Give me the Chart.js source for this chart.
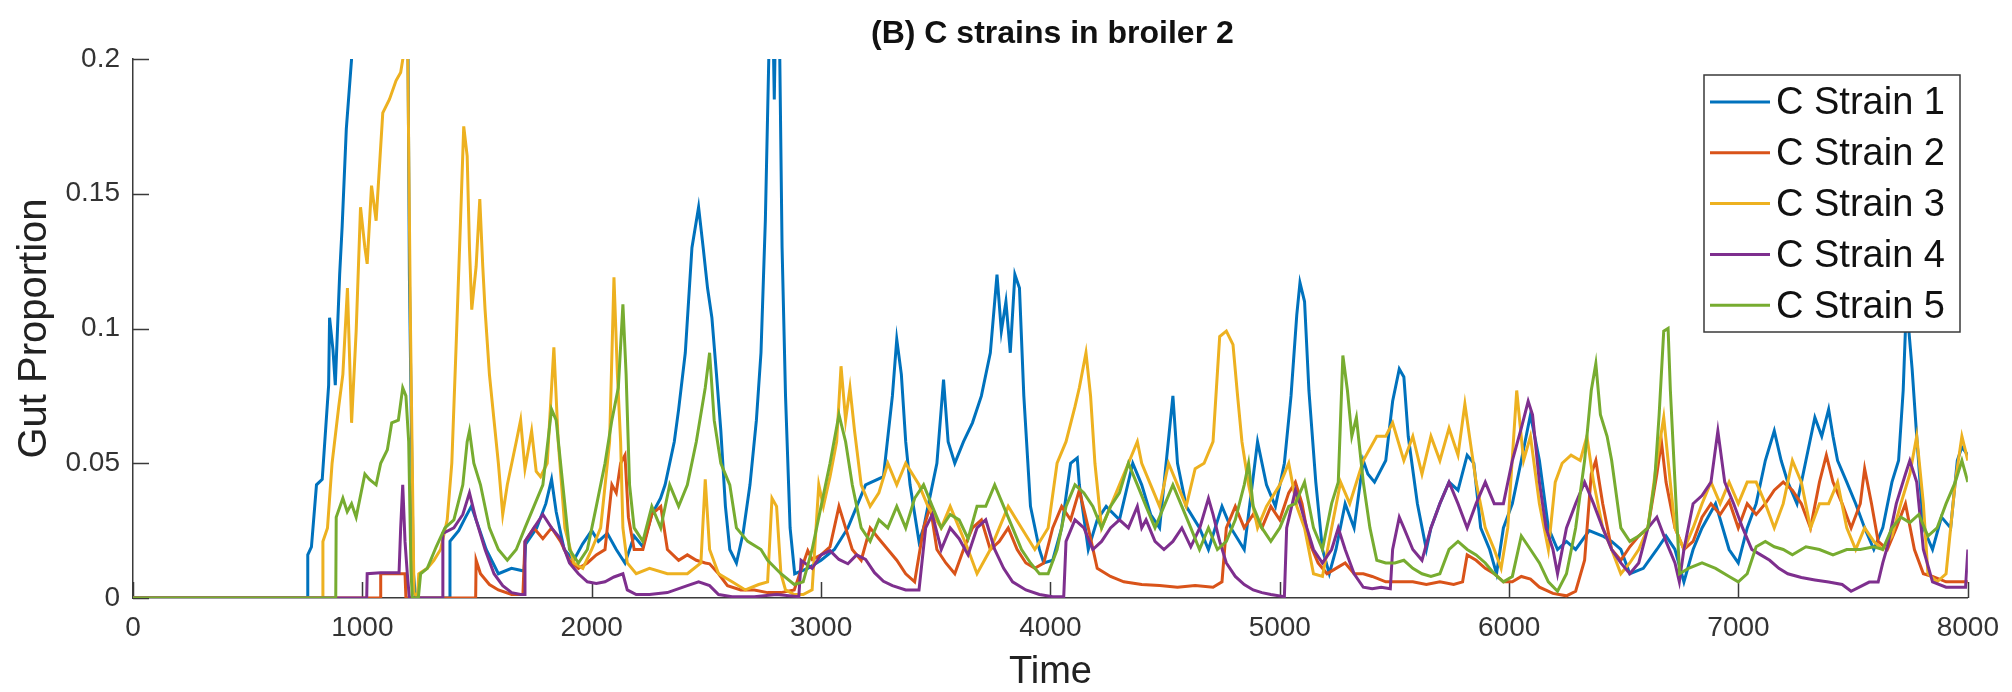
<!DOCTYPE html>
<html>
<head>
<meta charset="utf-8">
<title>C strains in broiler 2</title>
<script src="https://cdn.jsdelivr.net/npm/chart.js@4.4.1/dist/chart.umd.min.js"></script>
<style>
  html, body { margin: 0; padding: 0; background: #fff; }
  #wrap { width: 2012px; height: 692px; }
</style>
</head>
<body>
<div id="wrap"><canvas id="chart" width="2012" height="692"></canvas></div>
<script>
/* Series: [time, gut proportion] */
const strain1 = [[0,0],[760,0],[762,0.016],[778,0.019],[800,0.042],[825,0.044],[853,0.079],[857,0.104],[872,0.092],[882,0.079],[901,0.12],[912,0.138],[930,0.174],[953,0.2],[980,0.26],[1060,0.3],[1150,0.3],[1195,0.26],[1205,0.12],[1222,0.01],[1232,0],
  [1378,0],[1382,0.021],[1420,0.025],[1450,0.03],[1475,0.034],[1500,0.028],[1540,0.018],[1593,0.009],[1650,0.011],[1705,0.01],[1712,0.02],[1760,0.026],[1800,0.035],[1825,0.044],[1845,0.032],[1880,0.018],[1922,0.014],[1960,0.02],[2000,0.025],[2029,0.021],[2068,0.024],[2107,0.018],[2145,0.013],[2185,0.023],[2223,0.019],[2262,0.031],[2300,0.037],[2320,0.042],[2360,0.058],[2379,0.07],[2408,0.091],[2437,0.13],[2466,0.145],[2486,0.13],[2505,0.115],[2524,0.104],[2544,0.083],[2563,0.062],[2583,0.034],[2602,0.018],[2631,0.013],[2660,0.024],[2690,0.042],[2718,0.066],[2738,0.091],[2757,0.14],[2772,0.2],[2785,0.24],[2796,0.185],[2806,0.24],[2820,0.2],[2830,0.13],[2845,0.075],[2865,0.026],[2885,0.009],[2942,0.011],[3000,0.014],[3058,0.018],[3117,0.026],[3194,0.042],[3272,0.045],[3311,0.075],[3330,0.096],[3350,0.083],[3369,0.058],[3388,0.042],[3427,0.021],[3447,0.026],[3466,0.034],[3505,0.05],[3534,0.081],[3554,0.058],[3583,0.05],[3621,0.058],[3660,0.065],[3699,0.075],[3738,0.091],[3767,0.12],[3786,0.099],[3806,0.11],[3825,0.091],[3845,0.12],[3865,0.115],[3884,0.075],[3913,0.034],[3952,0.018],[3971,0.013],[4010,0.014],[4049,0.026],[4088,0.05],[4117,0.052],[4126,0.042],[4165,0.018],[4204,0.029],[4243,0.034],[4301,0.029],[4359,0.05],[4398,0.042],[4437,0.031],[4476,0.026],[4534,0.075],[4554,0.05],[4592,0.034],[4650,0.026],[4689,0.018],[4748,0.034],[4787,0.026],[4845,0.018],[4903,0.058],[4942,0.042],[4981,0.034],[5020,0.05],[5049,0.075],[5074,0.105],[5088,0.117],[5108,0.11],[5127,0.077],[5157,0.043],[5186,0.018],[5216,0.009],[5245,0.018],[5285,0.035],[5324,0.026],[5364,0.051],[5384,0.046],[5413,0.043],[5462,0.051],[5492,0.073],[5521,0.085],[5541,0.082],[5560,0.06],[5600,0.035],[5639,0.018],[5659,0.026],[5698,0.035],[5738,0.043],[5777,0.04],[5817,0.053],[5846,0.05],[5876,0.026],[5915,0.018],[5945,0.009],[5975,0.026],[6014,0.035],[6053,0.051],[6093,0.068],[6132,0.051],[6171,0.026],[6211,0.018],[6250,0.021],[6290,0.018],[6349,0.025],[6408,0.023],[6447,0.021],[6487,0.018],[6526,0.009],[6585,0.011],[6644,0.018],[6684,0.023],[6723,0.018],[6762,0.006],[6802,0.018],[6841,0.026],[6900,0.035],[6959,0.018],[6999,0.013],[7038,0.026],[7077,0.035],[7117,0.051],[7156,0.062],[7186,0.051],[7215,0.043],[7255,0.035],[7294,0.051],[7333,0.067],[7363,0.06],[7393,0.07],[7412,0.06],[7432,0.051],[7472,0.043],[7511,0.035],[7550,0.026],[7590,0.018],[7629,0.026],[7669,0.043],[7698,0.051],[7718,0.077],[7728,0.1],[7738,0.104],[7757,0.085],[7777,0.06],[7806,0.026],[7846,0.018],[7885,0.03],[7925,0.026],[7954,0.051],[7974,0.056],[8000,0.053]];

const strain2 = [[0,0],[1078,0],[1080,0.009],[1186,0.009],[1190,0],[1494,0],[1496,0.014],[1515,0.009],[1554,0.005],[1593,0.003],[1651,0.0013],[1700,0.0013],[1709,0.021],[1748,0.026],[1787,0.022],[1825,0.026],[1864,0.021],[1903,0.014],[1942,0.011],[1981,0.013],[2020,0.016],[2058,0.018],[2088,0.042],[2107,0.039],[2126,0.05],[2145,0.053],[2160,0.03],[2185,0.018],[2223,0.018],[2262,0.031],[2301,0.034],[2330,0.018],[2379,0.014],[2417,0.016],[2456,0.014],[2495,0.013],[2514,0.0127],[2553,0.009],[2592,0.0046],[2650,0.003],[2709,0.003],[2767,0.002],[2825,0.002],[2883,0.003],[2922,0.0127],[2942,0.0176],[2961,0.0143],[3000,0.016],[3039,0.019],[3078,0.034],[3107,0.026],[3136,0.018],[3175,0.014],[3214,0.026],[3252,0.022],[3291,0.018],[3330,0.014],[3369,0.009],[3408,0.006],[3447,0.026],[3476,0.034],[3505,0.018],[3544,0.013],[3583,0.009],[3621,0.018],[3660,0.026],[3699,0.029],[3738,0.018],[3777,0.021],[3816,0.026],[3855,0.018],[3893,0.013],[3932,0.011],[3971,0.013],[4010,0.026],[4049,0.034],[4088,0.029],[4126,0.04],[4165,0.026],[4204,0.011],[4262,0.008],[4320,0.006],[4398,0.005],[4476,0.0046],[4554,0.004],[4631,0.0046],[4709,0.004],[4748,0.006],[4767,0.026],[4806,0.034],[4845,0.026],[4884,0.031],[4922,0.026],[4961,0.034],[5000,0.029],[5039,0.039],[5068,0.043],[5097,0.035],[5127,0.021],[5167,0.013],[5206,0.009],[5245,0.011],[5285,0.013],[5324,0.009],[5364,0.009],[5403,0.008],[5462,0.006],[5521,0.006],[5580,0.006],[5639,0.005],[5698,0.006],[5758,0.005],[5797,0.006],[5817,0.016],[5856,0.014],[5896,0.011],[5935,0.009],[5975,0.006],[6014,0.006],[6053,0.008],[6093,0.007],[6132,0.004],[6191,0.0017],[6250,0.0008],[6290,0.0025],[6329,0.014],[6358,0.046],[6378,0.051],[6408,0.035],[6447,0.018],[6487,0.014],[6526,0.019],[6565,0.023],[6605,0.026],[6644,0.046],[6664,0.058],[6684,0.043],[6723,0.026],[6762,0.018],[6802,0.021],[6841,0.03],[6880,0.035],[6920,0.031],[6959,0.036],[6999,0.026],[7038,0.035],[7077,0.031],[7117,0.035],[7156,0.04],[7195,0.043],[7235,0.04],[7274,0.035],[7314,0.026],[7353,0.043],[7383,0.053],[7412,0.043],[7452,0.035],[7491,0.026],[7531,0.035],[7550,0.048],[7580,0.035],[7609,0.021],[7649,0.018],[7688,0.026],[7728,0.035],[7767,0.018],[7806,0.009],[7846,0.008],[7905,0.006],[7964,0.006],[8000,0.006]];

const strain3 = [[0,0],[826,0],[828,0.021],[848,0.026],[868,0.05],[897,0.071],[915,0.083],[935,0.115],[953,0.065],[973,0.099],[992,0.145],[1011,0.13],[1021,0.124],[1040,0.153],[1060,0.14],[1089,0.18],[1118,0.185],[1147,0.192],[1167,0.195],[1186,0.205],[1198,0.2],[1210,0.1],[1225,0.002],[1240,0],
  [1246,0.009],[1283,0.011],[1312,0.014],[1341,0.018],[1370,0.029],[1390,0.05],[1409,0.094],[1428,0.14],[1442,0.175],[1457,0.164],[1467,0.13],[1477,0.107],[1496,0.123],[1512,0.148],[1525,0.123],[1535,0.107],[1554,0.083],[1574,0.066],[1593,0.05],[1612,0.031],[1632,0.042],[1671,0.058],[1690,0.066],[1709,0.048],[1738,0.062],[1758,0.047],[1777,0.045],[1806,0.05],[1835,0.093],[1854,0.058],[1883,0.026],[1922,0.013],[1961,0.011],[2000,0.018],[2039,0.026],[2078,0.058],[2097,0.119],[2112,0.083],[2126,0.058],[2136,0.026],[2155,0.013],[2194,0.009],[2252,0.011],[2330,0.009],[2417,0.009],[2476,0.013],[2495,0.044],[2514,0.018],[2553,0.009],[2612,0.006],[2670,0.003],[2728,0.005],[2767,0.006],[2786,0.037],[2806,0.034],[2825,0.009],[2845,0.003],[2883,0.0013],[2922,0.0013],[2961,0.003],[2990,0.042],[3010,0.034],[3039,0.045],[3068,0.058],[3087,0.086],[3107,0.066],[3126,0.078],[3146,0.062],[3175,0.042],[3214,0.034],[3252,0.039],[3291,0.05],[3330,0.042],[3369,0.05],[3427,0.042],[3466,0.034],[3524,0.026],[3563,0.034],[3602,0.026],[3641,0.018],[3680,0.009],[3738,0.018],[3777,0.026],[3816,0.034],[3874,0.026],[3932,0.018],[3990,0.026],[4029,0.05],[4068,0.058],[4107,0.071],[4126,0.078],[4155,0.091],[4175,0.075],[4194,0.05],[4223,0.026],[4262,0.034],[4301,0.042],[4340,0.05],[4379,0.058],[4398,0.05],[4437,0.042],[4476,0.034],[4515,0.05],[4554,0.042],[4592,0.034],[4631,0.048],[4670,0.05],[4709,0.058],[4738,0.097],[4767,0.099],[4796,0.094],[4816,0.075],[4835,0.058],[4864,0.042],[4903,0.026],[4942,0.034],[5000,0.042],[5039,0.05],[5074,0.034],[5108,0.026],[5147,0.009],[5186,0.008],[5226,0.026],[5265,0.043],[5305,0.035],[5364,0.051],[5423,0.06],[5462,0.06],[5492,0.065],[5541,0.051],[5580,0.06],[5620,0.046],[5659,0.06],[5698,0.051],[5738,0.063],[5777,0.053],[5807,0.072],[5827,0.06],[5856,0.043],[5896,0.026],[5935,0.018],[5965,0.011],[5994,0.026],[6033,0.077],[6063,0.051],[6093,0.06],[6132,0.035],[6171,0.018],[6201,0.043],[6231,0.05],[6270,0.053],[6310,0.051],[6339,0.06],[6368,0.043],[6408,0.026],[6447,0.018],[6487,0.009],[6526,0.013],[6565,0.018],[6605,0.026],[6644,0.051],[6674,0.067],[6693,0.051],[6723,0.026],[6762,0.018],[6802,0.026],[6841,0.035],[6880,0.043],[6920,0.035],[6959,0.043],[6999,0.035],[7038,0.043],[7077,0.043],[7117,0.035],[7156,0.026],[7195,0.035],[7235,0.051],[7274,0.043],[7314,0.026],[7353,0.035],[7393,0.035],[7432,0.043],[7472,0.026],[7511,0.018],[7550,0.026],[7590,0.021],[7629,0.018],[7669,0.023],[7708,0.035],[7747,0.046],[7777,0.06],[7806,0.035],[7826,0.009],[7866,0.006],[7905,0.009],[7945,0.043],[7974,0.06],[8000,0.051]];

const strain4 = [[0,0],[1019,0],[1021,0.009],[1080,0.0094],[1160,0.0094],[1167,0.026],[1176,0.042],[1186,0.021],[1196,0.009],[1205,0],[1349,0],[1351,0.024],[1399,0.026],[1438,0.031],[1467,0.039],[1496,0.029],[1535,0.018],[1574,0.009],[1612,0.0046],[1651,0.002],[1690,0.0013],[1705,0.0013],[1709,0.021],[1748,0.026],[1787,0.031],[1825,0.026],[1864,0.022],[1903,0.013],[1942,0.009],[1981,0.006],[2020,0.0054],[2058,0.006],[2097,0.0078],[2136,0.009],[2155,0.003],[2194,0.0013],[2252,0.0013],[2330,0.002],[2417,0.0046],[2466,0.006],[2514,0.0046],[2553,0.0013],[2612,0.0005],[2709,0.0005],[2806,0.0013],[2903,0.0005],[2913,0.014],[2961,0.011],[3000,0.016],[3039,0.0176],[3078,0.0143],[3117,0.0127],[3155,0.016],[3194,0.0143],[3233,0.0094],[3272,0.0062],[3311,0.0046],[3369,0.003],[3427,0.003],[3456,0.026],[3485,0.031],[3524,0.018],[3563,0.026],[3602,0.022],[3641,0.016],[3680,0.026],[3718,0.029],[3757,0.018],[3796,0.011],[3835,0.006],[3893,0.003],[3952,0.0013],[4010,0.0005],[4058,0.0005],[4068,0.021],[4107,0.029],[4146,0.026],[4185,0.018],[4223,0.021],[4262,0.026],[4301,0.029],[4340,0.026],[4379,0.034],[4398,0.026],[4417,0.029],[4456,0.021],[4495,0.018],[4534,0.021],[4573,0.026],[4612,0.019],[4651,0.026],[4689,0.037],[4709,0.031],[4738,0.021],[4767,0.013],[4806,0.008],[4845,0.005],[4884,0.003],[4922,0.002],[4961,0.0013],[5020,0.0005],[5030,0.026],[5068,0.04],[5088,0.035],[5118,0.026],[5147,0.018],[5186,0.013],[5226,0.018],[5255,0.026],[5285,0.018],[5324,0.009],[5364,0.004],[5403,0.0034],[5442,0.004],[5482,0.0034],[5492,0.018],[5521,0.03],[5541,0.026],[5580,0.018],[5620,0.014],[5659,0.026],[5698,0.035],[5738,0.043],[5777,0.035],[5817,0.026],[5856,0.035],[5896,0.043],[5935,0.035],[5975,0.035],[6014,0.051],[6053,0.063],[6083,0.073],[6102,0.068],[6132,0.043],[6161,0.026],[6191,0.018],[6211,0.009],[6250,0.026],[6290,0.035],[6329,0.043],[6368,0.035],[6408,0.026],[6447,0.018],[6487,0.013],[6526,0.009],[6565,0.013],[6605,0.026],[6644,0.03],[6684,0.021],[6723,0.013],[6742,0.006],[6762,0.018],[6802,0.035],[6841,0.038],[6880,0.043],[6910,0.062],[6940,0.043],[6979,0.035],[7018,0.026],[7058,0.018],[7097,0.016],[7136,0.014],[7176,0.011],[7215,0.009],[7274,0.0076],[7333,0.0067],[7393,0.0059],[7452,0.005],[7491,0.0025],[7531,0.0042],[7570,0.0059],[7609,0.0059],[7629,0.013],[7649,0.019],[7688,0.035],[7728,0.046],[7747,0.051],[7777,0.043],[7806,0.018],[7846,0.006],[7905,0.004],[7964,0.004],[7990,0.004],[8000,0.018]];

const strain5 = [[0,0],[884,0],[886,0.03],[915,0.037],[934,0.032],[953,0.035],[973,0.03],[1011,0.046],[1031,0.044],[1060,0.042],[1080,0.05],[1109,0.055],[1128,0.065],[1157,0.066],[1176,0.078],[1190,0.075],[1202,0.058],[1212,0.01],[1218,0],[1244,0],[1254,0.009],[1283,0.011],[1322,0.019],[1360,0.026],[1399,0.029],[1438,0.042],[1457,0.058],[1467,0.062],[1486,0.05],[1515,0.042],[1554,0.026],[1593,0.018],[1632,0.014],[1671,0.018],[1709,0.026],[1748,0.034],[1787,0.042],[1825,0.07],[1845,0.066],[1874,0.042],[1903,0.018],[1942,0.013],[1981,0.018],[2020,0.034],[2058,0.05],[2088,0.066],[2116,0.078],[2136,0.109],[2150,0.083],[2165,0.042],[2185,0.026],[2223,0.021],[2262,0.034],[2301,0.026],[2340,0.042],[2379,0.034],[2417,0.042],[2456,0.058],[2495,0.078],[2514,0.091],[2534,0.066],[2563,0.05],[2602,0.042],[2631,0.026],[2680,0.021],[2738,0.018],[2767,0.014],[2825,0.009],[2883,0.005],[2922,0.006],[2961,0.018],[3000,0.034],[3039,0.05],[3078,0.068],[3107,0.058],[3136,0.042],[3175,0.026],[3214,0.021],[3252,0.029],[3291,0.026],[3330,0.034],[3369,0.026],[3408,0.037],[3447,0.042],[3485,0.034],[3524,0.026],[3563,0.031],[3602,0.029],[3641,0.022],[3680,0.034],[3718,0.034],[3757,0.042],[3796,0.034],[3835,0.026],[3874,0.018],[3913,0.013],[3952,0.009],[3990,0.009],[4029,0.018],[4068,0.034],[4107,0.042],[4146,0.039],[4185,0.034],[4223,0.026],[4262,0.034],[4301,0.039],[4340,0.05],[4379,0.042],[4417,0.034],[4456,0.026],[4495,0.034],[4534,0.042],[4573,0.034],[4612,0.026],[4650,0.018],[4689,0.026],[4728,0.018],[4767,0.021],[4806,0.029],[4845,0.042],[4864,0.05],[4884,0.034],[4922,0.026],[4961,0.021],[5000,0.026],[5039,0.034],[5068,0.035],[5108,0.043],[5147,0.026],[5186,0.018],[5226,0.035],[5255,0.043],[5275,0.09],[5295,0.077],[5314,0.06],[5334,0.067],[5364,0.043],[5393,0.026],[5423,0.014],[5462,0.013],[5502,0.013],[5541,0.014],[5580,0.011],[5620,0.009],[5659,0.008],[5698,0.009],[5738,0.018],[5777,0.021],[5817,0.018],[5856,0.016],[5896,0.013],[5935,0.009],[5975,0.006],[6014,0.008],[6053,0.023],[6093,0.018],[6132,0.013],[6171,0.006],[6211,0.0025],[6250,0.009],[6290,0.026],[6329,0.051],[6358,0.077],[6378,0.087],[6398,0.068],[6427,0.06],[6447,0.051],[6487,0.026],[6526,0.021],[6565,0.023],[6605,0.026],[6634,0.043],[6654,0.068],[6674,0.099],[6693,0.1],[6703,0.077],[6723,0.043],[6743,0.009],[6782,0.011],[6841,0.013],[6900,0.011],[6959,0.008],[6999,0.006],[7038,0.009],[7077,0.019],[7117,0.021],[7156,0.019],[7195,0.018],[7235,0.016],[7294,0.019],[7353,0.018],[7412,0.016],[7472,0.018],[7531,0.018],[7590,0.019],[7629,0.018],[7669,0.026],[7708,0.03],[7747,0.028],[7786,0.031],[7826,0.023],[7866,0.026],[7905,0.035],[7945,0.043],[7974,0.051],[8000,0.043]];

const seriesNames = ["C Strain 1", "C Strain 2", "C Strain 3", "C Strain 4", "C Strain 5"];
const seriesColours = ["#0072BD", "#D95319", "#EDB120", "#7E2F8E", "#77AC30"];
const xTicks = [0, 1000, 2000, 3000, 4000, 5000, 6000, 7000, 8000];
const yTicks = [0, 0.05, 0.1, 0.15, 0.2];
const yTickLabels = ["0", "0.05", "0.1", "0.15", "0.2"];

const chartTitle = "(B) C strains in broiler 2";
const axisColour = "#3a3a3a";
const sans = "'Liberation Sans', Arial, Helvetica, sans-serif";

/* Draws MATLAB style inward ticks */
const innerTicks = {
  id: "innerTicks",
  beforeDatasetsDraw(chart) {
    const { ctx, chartArea, scales } = chart;
    const len = 16;
    ctx.save();
    ctx.strokeStyle = axisColour;
    ctx.lineWidth = 1.5;
    ctx.beginPath();
    xTicks.forEach(t => {
      const px = Math.round(scales.x.getPixelForValue(t)) + 0.5;
      ctx.moveTo(px, chartArea.bottom);
      ctx.lineTo(px, chartArea.bottom - len);
    });
    yTicks.forEach(v => {
      const py = Math.round(scales.y.getPixelForValue(v)) + 0.5;
      ctx.moveTo(chartArea.left, py);
      ctx.lineTo(chartArea.left + len, py);
    });
    ctx.stroke();
    ctx.restore();
  }
};

/* Title and boxed legend drawn on top of the plot */
const titleAndLegend = {
  id: "titleAndLegend",
  afterDraw(chart) {
    const { ctx, chartArea } = chart;
    ctx.save();

    ctx.fillStyle = "#111";
    ctx.font = `bold 32px ${sans}`;
    ctx.textAlign = "center";
    ctx.textBaseline = "alphabetic";
    ctx.fillText(chartTitle, (chartArea.left + chartArea.right) / 2 + 2, 43);

    const boxLeft = 1704;
    const boxTop = 75;
    const boxW = 256;
    const boxH = 257;
    ctx.fillStyle = "#fff";
    ctx.fillRect(boxLeft, boxTop, boxW, boxH);
    ctx.strokeStyle = "#3a3a3a";
    ctx.lineWidth = 1.5;
    ctx.strokeRect(boxLeft, boxTop, boxW, boxH);

    ctx.font = `38px ${sans}`;
    ctx.textAlign = "left";
    ctx.textBaseline = "middle";
    chart.data.datasets.forEach((ds, i) => {
      const y = boxTop + 28 + i * 50.8;
      ctx.strokeStyle = ds.borderColor;
      ctx.lineWidth = 3;
      ctx.beginPath();
      ctx.moveTo(boxLeft + 6, y - 1);
      ctx.lineTo(boxLeft + 66, y - 1);
      ctx.stroke();
      ctx.fillStyle = "#111";
      ctx.fillText(ds.label, boxLeft + 72, y + 1);
    });
    ctx.restore();
  }
};

const allStrains = [strain1, strain2, strain3, strain4, strain5];

const datasets = allStrains.map((series, i) => ({
  label: seriesNames[i],
  data: series.map(([x, y]) => ({ x, y })),
  borderColor: seriesColours[i],
  backgroundColor: seriesColours[i],
  borderWidth: 3,
  pointRadius: 0,
  tension: 0,
  fill: false,
  /* later strains sit on top, as in the original */
  order: allStrains.length - 1 - i
}));

new Chart(document.getElementById("chart").getContext("2d"), {
  type: "line",
  data: { datasets },
  options: {
    responsive: false,
    devicePixelRatio: 1,
    animation: false,
    events: [],
    layout: { padding: { left: 0, right: 38, top: 59, bottom: 0 } },
    plugins: {
      legend: { display: false },
      title: { display: false },
      tooltip: { enabled: false }
    },
    scales: {
      x: {
        type: "linear",
        min: 0,
        max: 8000,
        afterBuildTicks: scale => {
          scale.ticks = xTicks.map(value => ({ value }));
        },
        afterFit: scale => {
          scale.height = 94;
        },
        ticks: {
          callback: value => String(value),
          color: "#333",
          font: { family: sans, size: 28 },
          padding: 13,
          maxRotation: 0,
          autoSkip: false
        },
        grid: { drawOnChartArea: false, drawTicks: false },
        border: { display: true, color: axisColour, width: 1.5 },
        title: {
          display: true,
          text: "Time",
          color: "#222",
          font: { family: sans, size: 38, lineHeight: 1 },
          padding: { top: 0, bottom: 0 }
        }
      },
      y: {
        min: 0,
        max: 0.2,
        afterBuildTicks: scale => {
          scale.ticks = yTicks.map(value => ({ value }));
        },
        afterFit: scale => {
          scale.width = 133;
        },
        ticks: {
          callback: (value, index) => yTickLabels[index],
          color: "#333",
          font: { family: sans, size: 28 },
          padding: 13,
          autoSkip: false
        },
        grid: { drawOnChartArea: false, drawTicks: false },
        border: { display: true, color: axisColour, width: 1.5 },
        title: {
          display: true,
          text: "Gut Proportion",
          color: "#222",
          font: { family: sans, size: 40, lineHeight: 1 },
          padding: { top: 15, bottom: 0 }
        }
      }
    }
  },
  plugins: [innerTicks, titleAndLegend]
});
</script>
</body>
</html>
